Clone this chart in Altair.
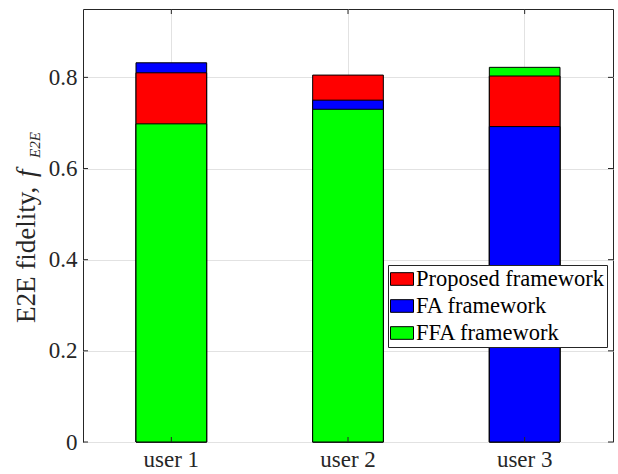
import altair as alt
import pandas as pd

# E2E fidelity per user for three frameworks
users = ["user 1", "user 2", "user 3"]
series = ["Proposed framework", "FA framework", "FFA framework"]
colors = ["#ff0000", "#0000ff", "#00ff00"]
proposed = [0.810, 0.805, 0.803]
fa = [0.832, 0.750, 0.692]
ffa = [0.698, 0.730, 0.822]
y_ticks = [0, 0.2, 0.4, 0.6, 0.8]

rows = []
for i, u in enumerate(users):
    for s, vals in zip(series, [proposed, fa, ffa]):
        rows.append({"user": u, "series": s, "value": vals[i]})
df = pd.DataFrame(rows)
# bars overlap from zero: draw the tallest first so each one stays visible
df = df.sort_values(["user", "value"], ascending=[True, False]).reset_index(drop=True)
df["draw"] = list(range(len(df)))

W, H = 530, 433
FONT = "Liberation Serif"
INK = "#262626"
GRID = "#e2e2e2"

x_scale = alt.Scale(domain=users, paddingInner=0.6, paddingOuter=0.3)
y_scale = alt.Scale(domain=[0, 0.95], nice=False, zero=True)
x_axis = alt.Axis(
    title=None, labelAngle=0, labelFont=FONT, labelFontSize=23,
    labelColor=INK, labelPadding=6, ticks=False, domain=False,
    grid=True, gridColor=GRID, gridWidth=1, bandPosition=0.5,
)
y_axis = alt.Axis(
    title=None, values=y_ticks, format=".1~f", labelFont=FONT,
    labelFontSize=23, labelColor=INK, labelPadding=6, ticks=False,
    domain=False, grid=True, gridColor=GRID, gridWidth=1,
)

bars = alt.Chart(df).mark_bar(stroke="black", strokeWidth=1, opacity=1).encode(
    x=alt.X("user:N", scale=x_scale, axis=x_axis),
    y=alt.Y("value:Q", stack=None, scale=y_scale, axis=y_axis),
    color=alt.Color(
        "series:N",
        scale=alt.Scale(domain=series, range=colors),
        legend=alt.Legend(
            title=None, orient="none", legendX=305, legendY=256,
            fillColor="white", strokeColor=INK, padding=2,
            symbolType="M-1,-0.55H1V0.55H-1Z", symbolSize=529,
            symbolStrokeColor="black", symbolStrokeWidth=1, symbolOpacity=1,
            labelFont=FONT, labelFontSize=22.5, labelColor="black",
            labelOffset=2, rowPadding=3, labelLimit=400,
        ),
    ),
    order=alt.Order("draw:Q"),
)

# inward tick marks on all four sides of the box
tick_df = pd.DataFrame({"value": y_ticks})
user_df = pd.DataFrame({"user": users})
left_ticks = alt.Chart(tick_df).mark_rule(color=INK, strokeWidth=1).encode(
    y=alt.Y("value:Q", scale=y_scale, axis=y_axis), x=alt.value(0), x2=alt.value(5)
)
right_ticks = alt.Chart(tick_df).mark_rule(color=INK, strokeWidth=1).encode(
    y=alt.Y("value:Q", scale=y_scale, axis=y_axis), x=alt.value(W - 5), x2=alt.value(W)
)
bottom_ticks = alt.Chart(user_df).mark_rule(color=INK, strokeWidth=1).encode(
    x=alt.X("user:N", scale=x_scale, axis=x_axis), y=alt.value(H - 5), y2=alt.value(H)
)
top_ticks = alt.Chart(user_df).mark_rule(color=INK, strokeWidth=1).encode(
    x=alt.X("user:N", scale=x_scale, axis=x_axis), y=alt.value(0), y2=alt.value(5)
)

# y axis title: "E2E fidelity, f_{E2E}"
title_main = alt.Chart(pd.DataFrame({"t": ["E2E fidelity,"]})).mark_text(
    angle=270, align="left", baseline="alphabetic", font=FONT, fontSize=27, color=INK
).encode(text="t:N", x=alt.value(-48), y=alt.value(314))
title_f = alt.Chart(pd.DataFrame({"t": ["f"]})).mark_text(
    angle=270, align="left", baseline="alphabetic", font=FONT, fontSize=27,
    fontStyle="italic", color=INK
).encode(text="t:N", x=alt.value(-48), y=alt.value(168))
title_sub = alt.Chart(pd.DataFrame({"t": ["E2E"]})).mark_text(
    angle=270, align="left", baseline="alphabetic", font=FONT, fontSize=15,
    fontStyle="italic", color=INK
).encode(text="t:N", x=alt.value(-43), y=alt.value(149))

chart = alt.layer(
    bars, left_ticks, right_ticks, bottom_ticks, top_ticks,
    title_main, title_f, title_sub,
).properties(
    width=W,
    height=H,
    autosize=alt.AutoSizeParams(type="none"),
    padding={"left": 83, "top": 9, "right": 5, "bottom": 32},
    background="white",
).configure(
    font=FONT
).configure_view(
    stroke=INK, strokeWidth=1
).configure_legend(
    strokeWidth=1, cornerRadius=0, labelFont=FONT, labelLimit=400
)

chart.save("out.html", embed_options={"renderer": "svg", "actions": False})
